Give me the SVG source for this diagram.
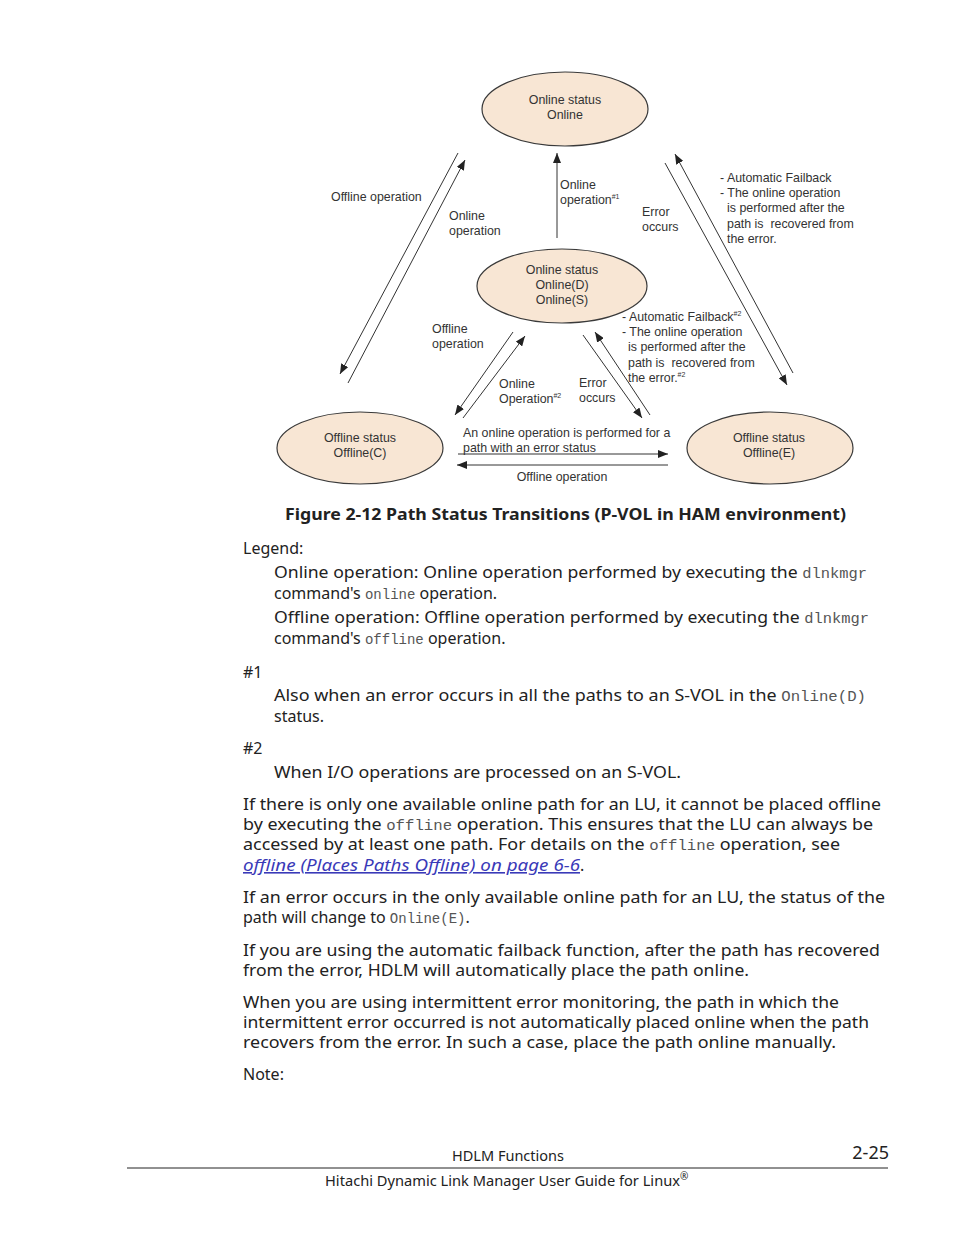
<svg xmlns="http://www.w3.org/2000/svg" width="954" height="1235" viewBox="0 0 954 1235">
<style>
.bg{fill:#ffffff}
.st{fill:#f8e6d4;stroke:#3a3a3a;stroke-width:1.2}
.dt{font-family:"Liberation Sans",Arial,sans-serif;font-size:12.4px;fill:#333333}
.sup{font-size:7px}
.c{text-anchor:middle}
.ln{stroke:#333333;stroke-width:1;fill:none;marker-end:url(#ah)}
.body{font-family:"Noto Sans","DejaVu Sans",sans-serif;font-size:16px;fill:#222222}
.mono{font-family:"Liberation Mono","DejaVu Sans Mono",monospace;font-size:14px;fill:#555555}
.cap{font-family:"Noto Sans","DejaVu Sans",sans-serif;font-size:16px;font-weight:bold;fill:#222222}
.link{fill:#3a3ab8;font-style:italic;text-decoration:underline}
.foot{font-family:"Noto Sans","DejaVu Sans",sans-serif;font-size:14px;fill:#222222}
</style>
<defs>
<marker id="ah" markerUnits="userSpaceOnUse" markerWidth="11" markerHeight="8" refX="10" refY="4" orient="auto">
<path d="M0,0 L10,4 L0,8 z" fill="#222222"/>
</marker>
</defs>
<rect class="bg" x="0" y="0" width="954" height="1235"/>

<g id="connectors">
<line class="ln" x1="458" y1="153" x2="340" y2="374"/>
<line class="ln" x1="348" y1="383" x2="465" y2="160"/>
<line class="ln" x1="557" y1="238" x2="557" y2="153"/>
<line class="ln" x1="665" y1="163" x2="787" y2="385"/>
<line class="ln" x1="793" y1="373" x2="675" y2="154"/>
<line class="ln" x1="513" y1="332" x2="455" y2="415"/>
<line class="ln" x1="463" y1="418" x2="525" y2="336"/>
<line class="ln" x1="583" y1="335" x2="642" y2="418"/>
<line class="ln" x1="650" y1="415" x2="595" y2="332"/>
<line class="ln" x1="458" y1="454" x2="668" y2="454"/>
<line class="ln" x1="668" y1="465" x2="457" y2="465"/>
</g>

<g id="node-online">
<ellipse class="st" cx="565" cy="109" rx="83" ry="37"/>
<text class="dt c" x="565" y="104">Online status</text>
<text class="dt c" x="565" y="119">Online</text>
</g>
<g id="node-online-ds">
<ellipse class="st" cx="562" cy="286" rx="85" ry="37"/>
<text class="dt c" x="562" y="274">Online status</text>
<text class="dt c" x="562" y="289">Online(D)</text>
<text class="dt c" x="562" y="304">Online(S)</text>
</g>
<g id="node-offline-c">
<ellipse class="st" cx="360" cy="448" rx="83" ry="36"/>
<text class="dt c" x="360" y="442">Offline status</text>
<text class="dt c" x="360" y="457">Offline(C)</text>
</g>
<g id="node-offline-e">
<ellipse class="st" cx="770" cy="448" rx="83" ry="36"/>
<text class="dt c" x="769" y="442">Offline status</text>
<text class="dt c" x="769" y="457">Offline(E)</text>
</g>

<g id="labels">
<text class="dt" x="331" y="201">Offline operation</text>
<text class="dt" x="449" y="220">Online</text>
<text class="dt" x="449" y="235">operation</text>
<text class="dt" x="560" y="189">Online</text>
<text class="dt" x="560" y="204">operation<tspan class="sup" dy="-5">#1</tspan></text>
<text class="dt" x="642" y="216">Error</text>
<text class="dt" x="642" y="231">occurs</text>
<text class="dt" x="720" y="182">- Automatic Failback</text>
<text class="dt" x="720" y="197">- The online operation</text>
<text class="dt" x="727" y="212">is performed after the</text>
<text class="dt" x="727" y="228" xml:space="preserve">path is  recovered from</text>
<text class="dt" x="727" y="243">the error.</text>
<text class="dt" x="622" y="321">- Automatic Failback<tspan class="sup" dy="-5">#2</tspan></text>
<text class="dt" x="622" y="336">- The online operation</text>
<text class="dt" x="628" y="351">is performed after the</text>
<text class="dt" x="628" y="367" xml:space="preserve">path is  recovered from</text>
<text class="dt" x="628" y="382">the error.<tspan class="sup" dy="-5">#2</tspan></text>
<text class="dt" x="432" y="333">Offline</text>
<text class="dt" x="432" y="348">operation</text>
<text class="dt" x="499" y="388">Online</text>
<text class="dt" x="499" y="403">Operation<tspan class="sup" dy="-5">#2</tspan></text>
<text class="dt" x="579" y="387">Error</text>
<text class="dt" x="579" y="402">occurs</text>
<text class="dt" x="463" y="437">An online operation is performed for a</text>
<text class="dt" x="463" y="452">path with an error status</text>
<text class="dt c" x="562" y="481">Offline operation</text>
</g>

<text class="cap" x="285" y="520" textLength="561" lengthAdjust="spacingAndGlyphs">Figure 2-12 Path Status Transitions (P-VOL in HAM environment)</text>

<g id="body">
<text class="body" x="243" y="554">Legend:</text>
<text class="body" x="274" y="578" textLength="593" lengthAdjust="spacingAndGlyphs">Online operation: Online operation performed by executing the <tspan class="mono">dlnkmgr</tspan></text>
<text class="body" x="274" y="599">command's <tspan class="mono">online</tspan> operation.</text>
<text class="body" x="274" y="623" textLength="595" lengthAdjust="spacingAndGlyphs">Offline operation: Offline operation performed by executing the <tspan class="mono">dlnkmgr</tspan></text>
<text class="body" x="274" y="644">command's <tspan class="mono">offline</tspan> operation.</text>
<text class="body" x="243" y="678">#1</text>
<text class="body" x="274" y="701" textLength="592" lengthAdjust="spacingAndGlyphs">Also when an error occurs in all the paths to an S-VOL in the <tspan class="mono">Online(D)</tspan></text>
<text class="body" x="274" y="722">status.</text>
<text class="body" x="243" y="754">#2</text>
<text class="body" x="274" y="778" textLength="407" lengthAdjust="spacingAndGlyphs">When I/O operations are processed on an S-VOL.</text>
<text class="body" x="243" y="810" textLength="638" lengthAdjust="spacingAndGlyphs">If there is only one available online path for an LU, it cannot be placed offline</text>
<text class="body" x="243" y="830" textLength="630" lengthAdjust="spacingAndGlyphs">by executing the <tspan class="mono">offline</tspan> operation. This ensures that the LU can always be</text>
<text class="body" x="243" y="850" textLength="597" lengthAdjust="spacingAndGlyphs">accessed by at least one path. For details on the <tspan class="mono">offline</tspan> operation, see</text>
<text class="body" x="243" y="871"><tspan class="link" textLength="337" lengthAdjust="spacingAndGlyphs">offline (Places Paths Offline) on page 6-6</tspan>.</text>
<text class="body" x="243" y="903" textLength="642" lengthAdjust="spacingAndGlyphs">If an error occurs in the only available online path for an LU, the status of the</text>
<text class="body" x="243" y="923">path will change to <tspan class="mono">Online(E)</tspan>.</text>
<text class="body" x="243" y="956" textLength="637" lengthAdjust="spacingAndGlyphs">If you are using the automatic failback function, after the path has recovered</text>
<text class="body" x="243" y="976" textLength="506" lengthAdjust="spacingAndGlyphs">from the error, HDLM will automatically place the path online.</text>
<text class="body" x="243" y="1008" textLength="596" lengthAdjust="spacingAndGlyphs">When you are using intermittent error monitoring, the path in which the</text>
<text class="body" x="243" y="1028" textLength="626" lengthAdjust="spacingAndGlyphs">intermittent error occurred is not automatically placed online when the path</text>
<text class="body" x="243" y="1048" textLength="593" lengthAdjust="spacingAndGlyphs">recovers from the error. In such a case, place the path online manually.</text>
<text class="body" x="243" y="1080">Note:</text>
</g>

<g id="footer">
<text class="foot" x="508" y="1161" text-anchor="middle" textLength="112" lengthAdjust="spacingAndGlyphs">HDLM Functions</text>
<text class="foot" x="889" y="1159" text-anchor="end" style="font-size:18px">2-25</text>
<line x1="127" y1="1168" x2="888" y2="1168" stroke="#222222" stroke-width="1"/>
<text class="foot" x="325" y="1186" textLength="355" lengthAdjust="spacingAndGlyphs">Hitachi Dynamic Link Manager User Guide for Linux</text>
<text class="foot" x="680" y="1180" style="font-size:10px">®</text>
</g>
</svg>
